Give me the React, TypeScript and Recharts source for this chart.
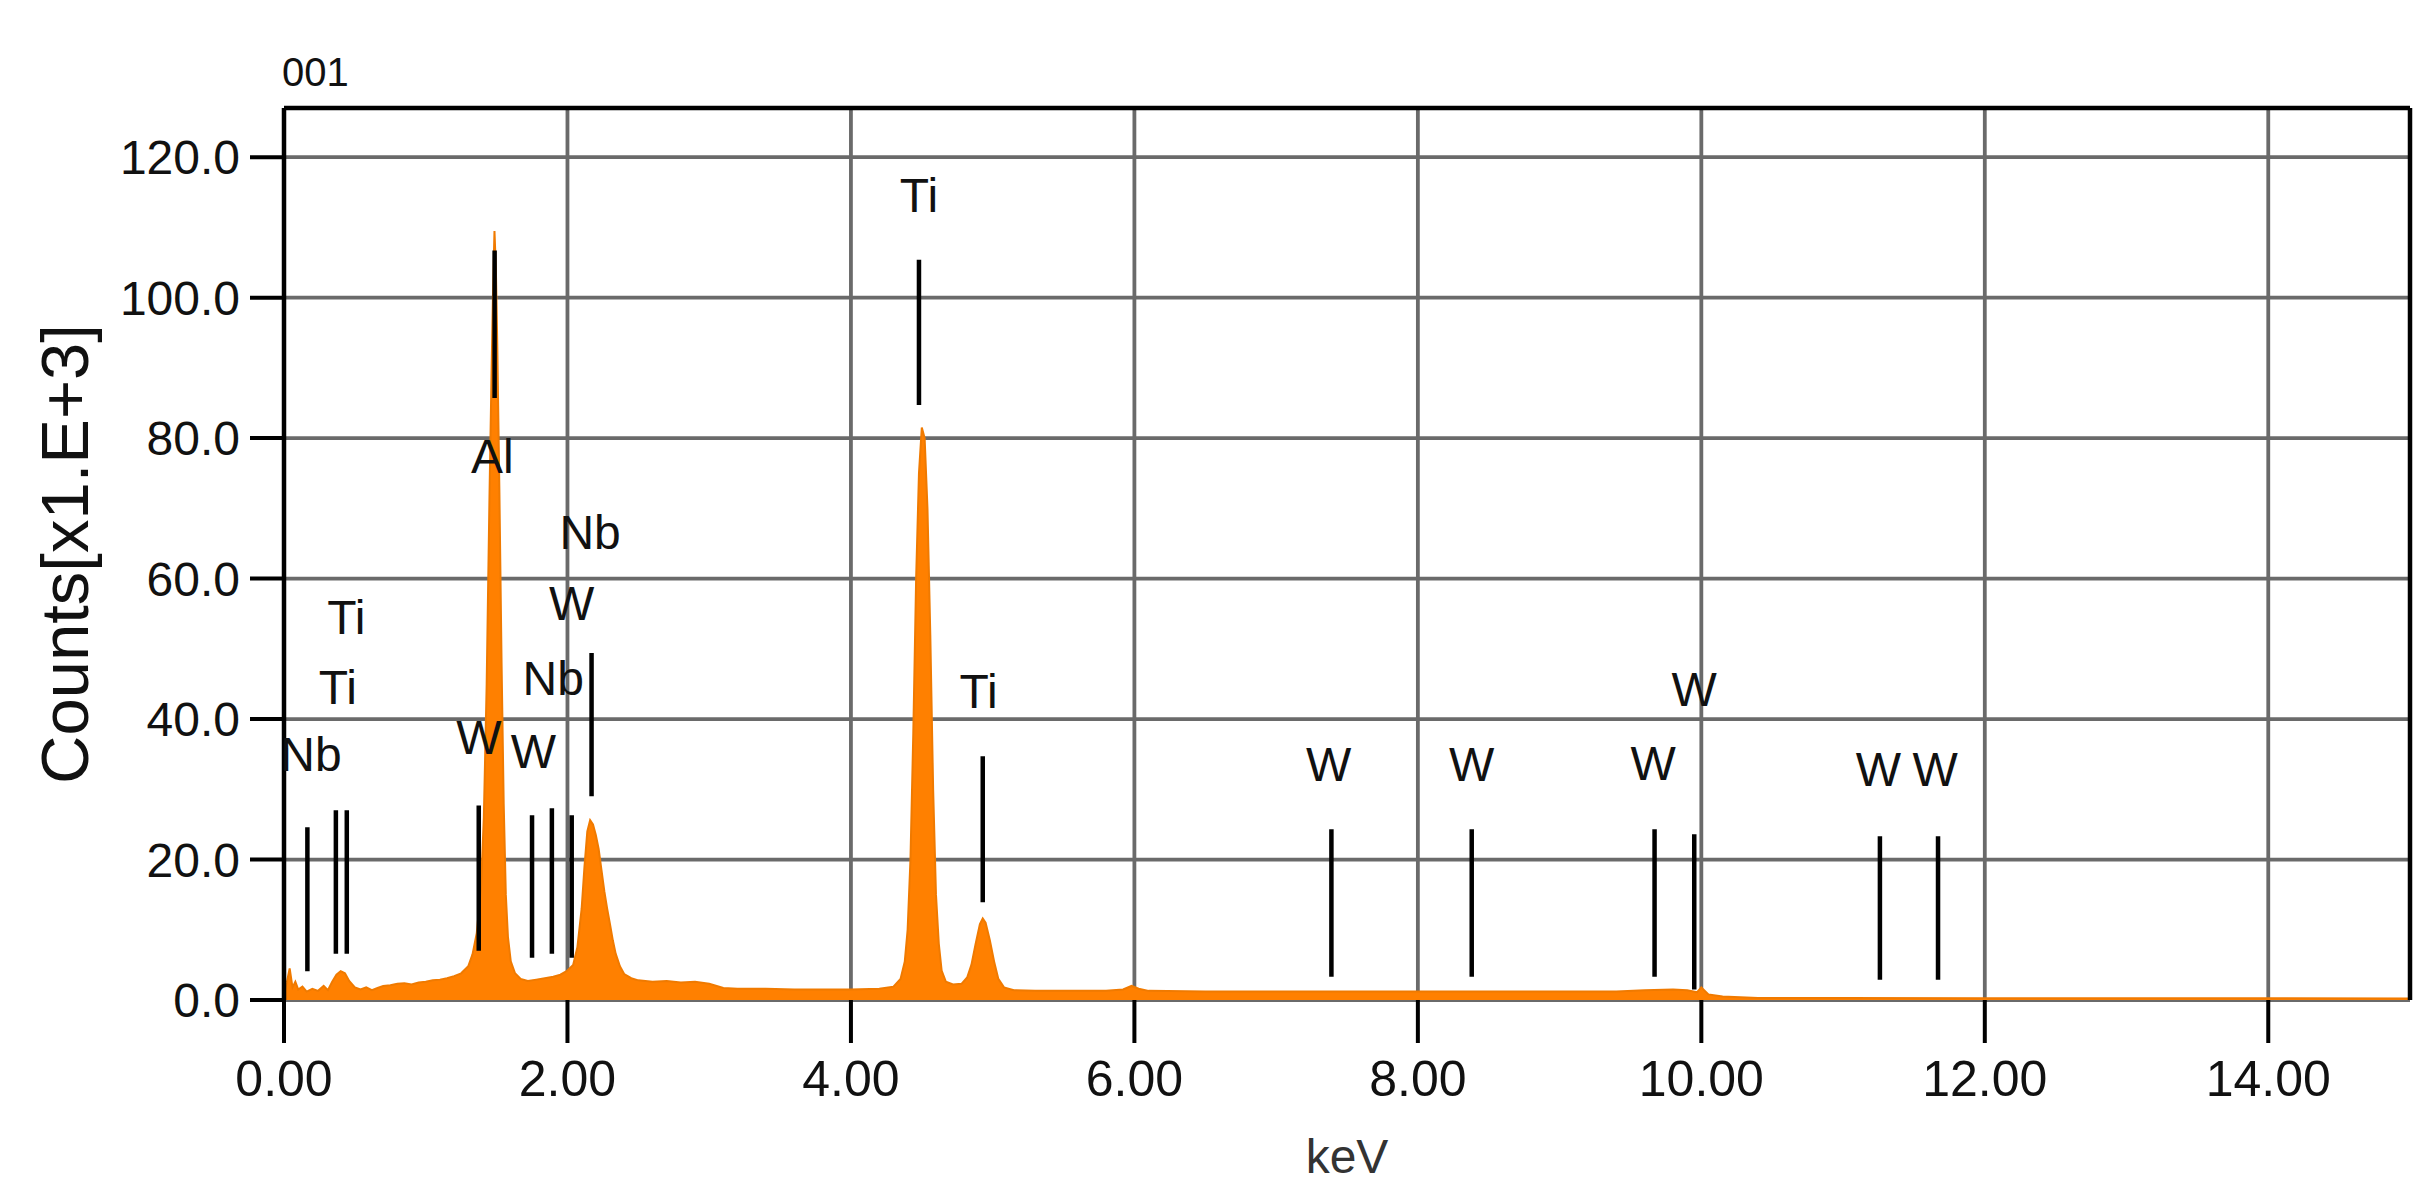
import React from "react";
import {
  Area,
  CartesianGrid,
  ComposedChart,
  ReferenceDot,
  ReferenceLine,
  XAxis,
  YAxis,
} from "recharts";

const FONT = "'Liberation Sans', Arial, sans-serif";

// spectrum (keV, counts x1000)
const energy = [
  0.0, 0.02, 0.04, 0.06, 0.08, 0.1, 0.13, 0.16, 0.2, 0.24, 0.28, 0.31, 0.34, 0.37,
  0.4, 0.43, 0.46, 0.5, 0.54, 0.58, 0.62, 0.66, 0.7, 0.75, 0.8, 0.85, 0.9, 0.95,
  1.0, 1.05, 1.1, 1.15, 1.2, 1.25, 1.3, 1.33, 1.36, 1.39, 1.41, 1.43, 1.45, 1.465,
  1.475, 1.485, 1.495, 1.505, 1.52, 1.535, 1.55, 1.565, 1.58, 1.6, 1.63, 1.67,
  1.72, 1.78, 1.84, 1.9, 1.95, 2.0, 2.04, 2.07, 2.1, 2.12, 2.14, 2.16, 2.18, 2.2,
  2.22, 2.24, 2.26, 2.28, 2.3, 2.32, 2.34, 2.37, 2.4, 2.45, 2.5, 2.6, 2.7, 2.8,
  2.9, 3.0, 3.1, 3.2, 3.4, 3.6, 3.8, 4.0, 4.2, 4.3, 4.35, 4.38, 4.4, 4.42, 4.44,
  4.46, 4.48, 4.5, 4.52, 4.54, 4.56, 4.58, 4.6, 4.62, 4.64, 4.67, 4.72, 4.78,
  4.82, 4.85, 4.88, 4.91, 4.93, 4.95, 4.98, 5.01, 5.04, 5.08, 5.15, 5.3, 5.5,
  5.8, 5.92, 5.98, 6.03, 6.1, 6.5, 7.0, 7.5, 8.0, 8.5, 9.0, 9.4, 9.6, 9.8, 9.9,
  9.97, 10.0, 10.05, 10.15, 10.4, 11.0, 12.0, 13.0, 14.0, 15.0,
];
const counts = [
  0.8, 2.5, 4.5, 1.8, 2.6, 1.5, 1.9, 1.2, 1.6, 1.3, 2.0, 1.4, 2.6, 3.6,
  4.1, 3.8, 2.7, 1.8, 1.5, 1.8, 1.4, 1.7, 2.0, 2.1, 2.3, 2.4, 2.2, 2.5,
  2.6, 2.8, 2.9, 3.1, 3.4, 3.8, 4.8, 6.5, 9.5, 16, 26, 45, 72, 90,
  101, 109.5, 104, 93, 72, 48, 28, 15, 9, 5.5, 3.8, 3.0,
  2.7, 2.9, 3.1, 3.3, 3.6, 4.2, 5.0, 7.5, 13, 19, 24, 25.6, 25, 23.5,
  21.5, 18.5, 15.5, 13, 10.8, 8.5, 6.6, 4.8, 3.7, 3.1, 2.8, 2.6, 2.7, 2.5,
  2.6, 2.3, 1.7, 1.6, 1.6, 1.5, 1.5, 1.5, 1.6, 1.9, 3.0, 5.5, 10, 20, 38,
  60, 75, 81.5, 80, 70, 52, 30, 15, 8, 4.2, 2.6, 2.2, 2.3,
  3.2, 5, 8, 10.8, 11.6, 11, 8.5, 5.5, 3.0, 1.8, 1.4, 1.3, 1.3,
  1.3, 1.5, 2.0, 1.6, 1.3, 1.2, 1.2, 1.2, 1.2, 1.2, 1.2, 1.2, 1.4, 1.5, 1.4,
  1.1, 1.8, 0.8, 0.5, 0.3, 0.3, 0.25, 0.25, 0.25, 0.2,
];

// element line markers
const markerKeV = [0.165, 0.366, 0.443, 1.374, 1.486, 1.75, 1.89, 2.03, 2.17, 4.48, 4.93, 7.39, 8.38, 9.67, 9.95, 11.26, 11.67];
const markerTop = [24.6, 27, 27, 27.7, 106.7, 26.3, 27.3, 26.3, 49.4, 105.4, 34.7, 24.3, 24.3, 24.3, 23.6, 23.3, 23.3];
const markerBottom = [4.1, 6.6, 6.6, 7, 85.7, 6, 6.6, 6, 29, 84.7, 13.9, 3.3, 3.3, 3.3, 1.5, 2.9, 2.9];
const markerLabel = ["Nb", "Ti", "Ti", "W", "Al", "W", "Nb", "W", "Nb", "Ti", "Ti", "W", "W", "W", "W", "W", "W"];
const labelKeV = [0.19, 0.38, 0.44, 1.376, 1.47, 1.76, 1.9, 2.03, 2.16, 4.48, 4.9, 7.37, 8.38, 9.66, 9.95, 11.25, 11.65];
const labelCounts = [35.0, 44.5, 54.6, 37.5, 77.4, 35.5, 45.9, 56.5, 66.6, 114.6, 44.0, 33.6, 33.6, 33.8, 44.3, 32.9, 32.9];

const xTicks = [0, 2, 4, 6, 8, 10, 12, 14];
const yTicks = [0, 20, 40, 60, 80, 100, 120];

const data = energy.map((keV, i) => ({ keV, counts: counts[i] }));

const YTitle = (props: any) => {
  const vb = props.viewBox || { x: 0, y: 108, width: 284, height: 892 };
  const cx = vb.x + 64;
  const cy = vb.y + vb.height / 2;
  return (
    <g>
      <text
        x={cx}
        y={cy}
        transform={`rotate(-90 ${cx} ${cy})`}
        textAnchor="middle"
        dominantBaseline="central"
        fontSize={67}
        fontFamily={FONT}
        fill="#111"
      >
        Counts[x1.E+3]
      </text>
      <text x={vb.x + vb.width - 2} y={vb.y - 22} fontSize={40} fontFamily={FONT} fill="#111">
        001
      </text>
    </g>
  );
};

const App = () => {
  return (
    <div style={{ position: "absolute", left: 0, top: 0, background: "#fff" }}>
      <ComposedChart
        width={2431}
        height={1199}
        data={data}
        margin={{ top: 108, right: 21, left: 0, bottom: 0 }}
      >
        <CartesianGrid stroke="#6a6a6a" strokeWidth={3.8} />
        <XAxis
          dataKey="keV"
          type="number"
          domain={[0, 15]}
          ticks={xTicks}
          allowDataOverflow
          height={199}
          axisLine={false}
          tickLine={{ stroke: "#000", strokeWidth: 4 }}
          tickSize={43}
          tickMargin={17}
          tickFormatter={(v: number) => v.toFixed(2)}
          tick={{ fontSize: 50, fill: "#111", fontFamily: FONT }}
          label={{ value: "keV", position: "insideBottom", offset: 26, fontSize: 48, fill: "#333", fontFamily: FONT }}
        />
        <YAxis
          type="number"
          domain={[0, 127]}
          ticks={yTicks}
          allowDataOverflow
          width={284}
          axisLine={{ stroke: "#000", strokeWidth: 4.5 }}
          tickLine={{ stroke: "#000", strokeWidth: 4 }}
          tickSize={34}
          tickMargin={10}
          tickFormatter={(v: number) => v.toFixed(1)}
          tick={{ fontSize: 48, fill: "#111", fontFamily: FONT }}
          label={{ content: YTitle }}
        />
        <Area
          type="linear"
          dataKey="counts"
          stroke="#F07A00"
          strokeWidth={2}
          fill="#FF8000"
          fillOpacity={1}
          dot={false}
          activeDot={false}
          isAnimationActive={false}
        />
        <ReferenceLine y={127} stroke="#000" strokeWidth={4.5} />
        <ReferenceLine x={15} stroke="#000" strokeWidth={4.5} />
        {markerKeV.map((k, i) => (
          <ReferenceLine
            key={`m${i}`}
            segment={[
              { x: k, y: markerTop[i] },
              { x: k, y: markerBottom[i] },
            ]}
            stroke="#000"
            strokeWidth={4.5}
          />
        ))}
        {markerLabel.map((name, i) => (
          <ReferenceDot
            key={`l${i}`}
            x={labelKeV[i]}
            y={labelCounts[i]}
            r={0}
            fill="none"
            stroke="none"
            ifOverflow="visible"
            label={{ value: name, position: "center", fontSize: 48, fill: "#111", fontFamily: FONT }}
          />
        ))}
      </ComposedChart>
    </div>
  );
};

export default App;
